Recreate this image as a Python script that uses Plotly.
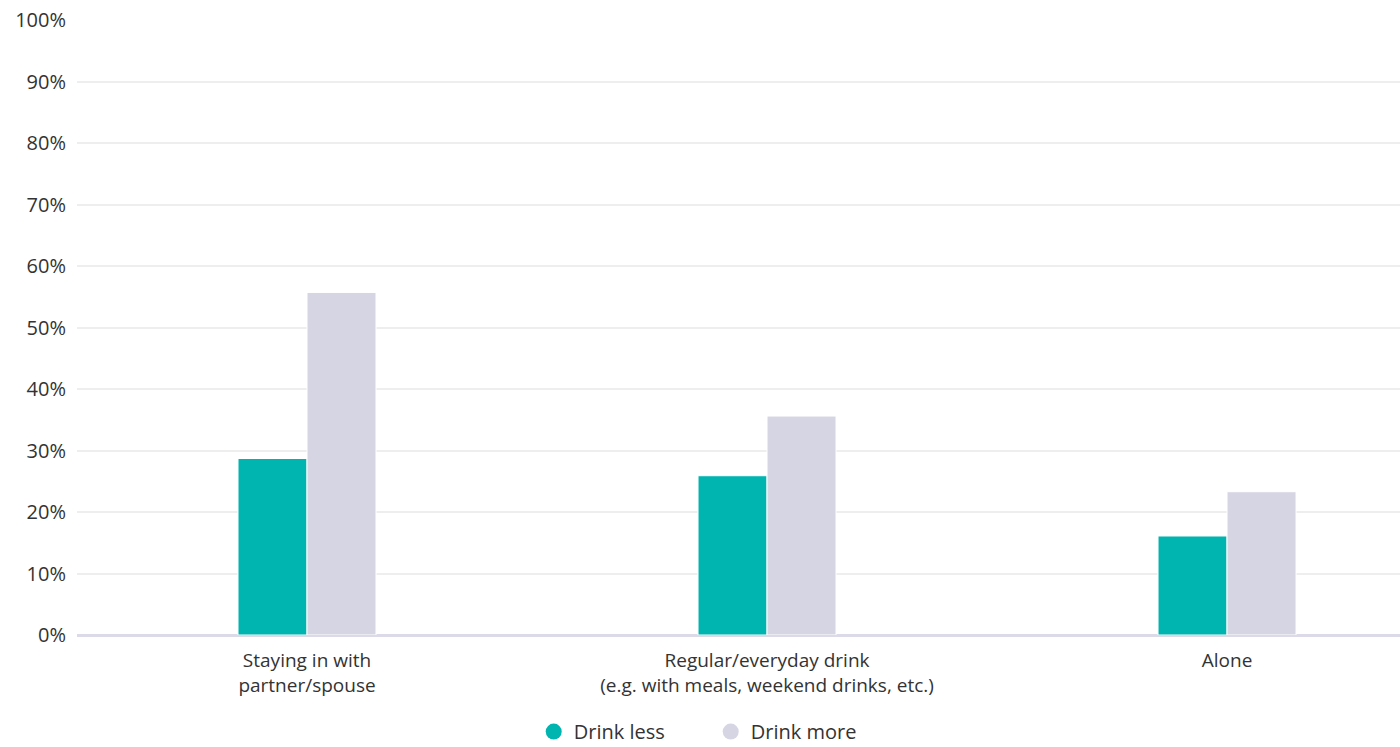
import plotly.graph_objects as go

categories = ["Staying in with<br>partner/spouse",
              "Regular/everyday drink<br>(e.g. with meals, weekend drinks, etc.)",
              "Alone"]
drink_less = [28.7, 25.9, 16.1]
drink_more = [55.7, 35.6, 23.3]
series_names = ["Drink less", "Drink more"]
colors = ["#00b5b0", "#d6d5e3"]
y_ticks = [0, 10, 20, 30, 40, 50, 60, 70, 80, 90, 100]

FONT = "Open Sans, Raleway, sans-serif"
TXT = "#333333"

fig = go.Figure()
for name, vals, col in zip(series_names, [drink_less, drink_more], colors):
    fig.add_trace(go.Bar(x=list(range(len(categories))), y=vals, name=name,
                         marker=dict(color=col, line=dict(color="white", width=1)),
                         showlegend=False))
for name, col in zip(series_names, colors):
    fig.add_trace(go.Scatter(x=[None], y=[None], mode="markers", name=name,
                             marker=dict(color=col, size=18, symbol="circle")))

fig.update_layout(
    width=1400, height=747,
    margin=dict(l=77, r=0, t=20, b=112, autoexpand=False),
    paper_bgcolor="white", plot_bgcolor="white",
    barmode="group", bargap=0.7, bargroupgap=0,
    font=dict(family=FONT, size=19, color=TXT),
    legend=dict(orientation="h", x=0.479, xanchor="center", y=-0.157, yanchor="middle",
                font=dict(size=20, color=TXT), itemwidth=30, tracegroupgap=0,
                entrywidth=132, entrywidthmode="pixels"),
    xaxis=dict(range=[-0.5, 2.376], tickvals=list(range(len(categories))),
               ticktext=categories, showgrid=False, zeroline=False, showline=False,
               automargin=False,
               ticks="", ticklabelstandoff=12, tickfont=dict(size=19, color=TXT)),
    yaxis=dict(range=[0, 100], tickvals=y_ticks, ticktext=[f"{v}%" for v in y_ticks],
               showgrid=True, gridcolor="#eeeeee", gridwidth=1.5, automargin=False,
               zeroline=True, zerolinecolor="#dcd9e8", zerolinewidth=2.5,
               ticks="", ticklabelstandoff=10, tickfont=dict(size=20, color=TXT)),
)
fig.write_html("out.html", config={"displayModeBar": False},
               post_script="document.body.style.margin='0';document.body.style.overflow='hidden';")
